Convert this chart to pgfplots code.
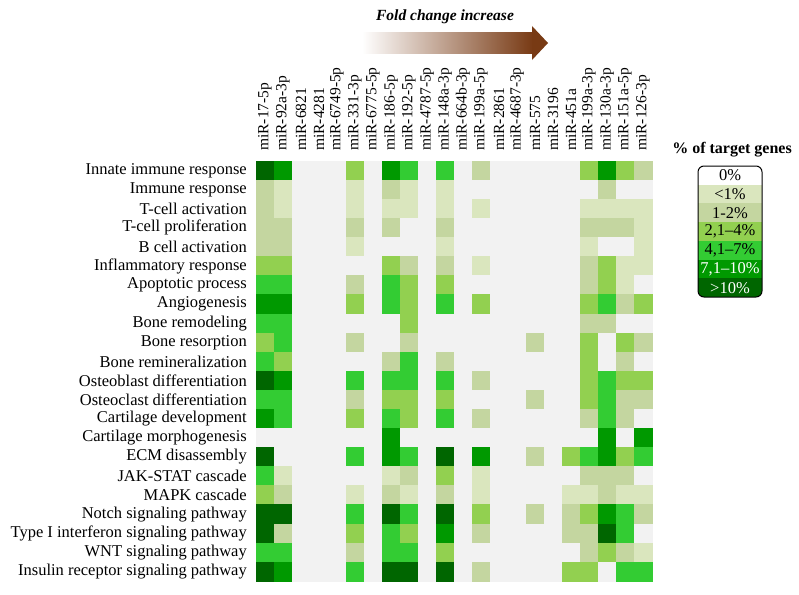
\documentclass[border=0pt]{standalone}
\usepackage{pgfplots}
\usepackage{pgfplotstable}
\pgfplotsset{compat=1.18}
\usepackage{fontspec}
\setmainfont{Liberation Serif}

\definecolor{lv1}{RGB}{218,230,190}
\definecolor{lv2}{RGB}{196,214,160}
\definecolor{lv3}{RGB}{146,208,80}
\definecolor{lv4}{RGB}{51,204,51}
\definecolor{lv5}{RGB}{0,153,0}
\definecolor{lv6}{RGB}{0,102,0}
\definecolor{arrowbrown}{RGB}{120,58,20}

% level of % of target genes: 0 = 0%, 1 = <1%, 2 = 1-2%, 3 = 2,1-4%, 4 = 4,1-7%, 5 = 7,1-10%, 6 = >10%
% r = pathway (0 = Innate immune response ... 21 = Insulin receptor signaling pathway), c0..c21 = miRNAs
\pgfplotstableread{
r c0 c1 c2 c3 c4 c5 c6 c7 c8 c9 c10 c11 c12 c13 c14 c15 c16 c17 c18 c19 c20 c21
0  6 5 0 0 0 3 0 5 4 0 4 0 2 0 0 0 0 0 3 5 3 2
1  2 1 0 0 0 1 0 2 1 0 1 0 0 0 0 0 0 0 0 2 0 0
2  2 1 0 0 0 1 0 1 1 0 1 0 1 0 0 0 0 0 1 1 1 1
3  2 2 0 0 0 2 0 2 0 0 2 0 0 0 0 0 0 0 2 2 2 1
4  2 2 0 0 0 1 0 0 0 0 1 0 0 0 0 0 0 0 1 0 0 1
5  3 3 0 0 0 0 0 3 2 0 2 0 1 0 0 0 0 0 2 3 1 1
6  4 4 0 0 0 2 0 4 3 0 3 0 0 0 0 0 0 0 2 3 1 0
7  5 5 0 0 0 3 0 4 3 0 4 0 3 0 0 0 0 0 3 4 2 3
8  4 4 0 0 0 0 0 0 3 0 0 0 0 0 0 0 0 0 2 2 0 0
9  3 4 0 0 0 2 0 0 2 0 0 0 0 0 0 2 0 0 3 0 3 2
10 4 3 0 0 0 0 0 2 4 0 2 0 0 0 0 0 0 0 3 0 2 0
11 6 5 0 0 0 4 0 4 4 0 4 0 2 0 0 0 0 0 3 4 3 3
12 4 4 0 0 0 2 0 3 3 0 3 0 0 0 0 2 0 0 3 4 2 2
13 5 4 0 0 0 3 0 4 3 0 4 0 2 0 0 0 0 0 2 4 2 0
14 0 0 0 0 0 0 0 5 0 0 0 0 0 0 0 0 0 0 0 5 0 5
15 6 0 0 0 0 4 0 5 4 0 6 0 5 0 0 2 0 3 4 5 3 4
16 4 1 0 0 0 0 0 1 2 0 3 0 1 0 0 0 0 0 2 2 2 0
17 3 2 0 0 0 1 0 2 1 0 2 0 1 0 0 0 0 1 1 2 1 1
18 6 6 0 0 0 4 0 6 4 0 6 0 3 0 0 2 0 2 3 5 4 2
19 6 2 0 0 0 3 0 4 3 0 5 0 2 0 0 0 0 2 2 6 4 0
20 4 4 0 0 0 2 0 4 4 0 3 0 0 0 0 0 0 0 2 3 2 1
21 6 5 0 0 0 4 0 6 6 0 6 0 2 0 0 0 0 3 3 0 4 4
}\levels

\begin{document}
\begin{tikzpicture}[x=1pt,y=1pt]
\path[use as bounding box] (0pt,0pt) rectangle (799pt,-594pt);

% fold change arrow
\shade[left color=white, middle color={rgb,255:red,210;green,140;blue,80}, right color=arrowbrown]
  (362,-33) rectangle (533,-53);
\fill[arrowbrown] (532,-26) -- (548,-43) -- (532,-60) -- cycle;
\node[font=\bfseries\itshape\fontsize{15.5}{17}\selectfont] at (445,-17) {Fold change increase};

\begin{axis}[
  at={(454pt,-371pt)}, anchor=center,
  width=396pt, height=420pt, scale only axis,
  xmin=-0.5, xmax=21.5, ymin=-0.5, ymax=21.5,
  colormap={levels}{rgb255=(242,242,242) rgb255=(218,230,190) rgb255=(196,214,160)
    rgb255=(146,208,80) rgb255=(51,204,51) rgb255=(0,153,0) rgb255=(0,102,0)},
  point meta min=0, point meta max=6,
  axis on top,
  axis line style={black!85, line width=1pt},
  major tick length=0pt,
  xtick={0,...,21},
  xticklabels={miR-17-5p, miR-92a-3p, miR-6821, miR-4281, miR-6749-5p, miR-331-3p,
    miR-6775-5p, miR-186-5p, miR-192-5p, miR-4787-5p, miR-148a-3p, miR-664b-3p,
    miR-199a-5p, miR-2861, miR-4687-3p, miR-575, miR-3196, miR-451a, miR-199a-3p,
    miR-130a-3p, miR-151a-5p, miR-126-3p},
  xticklabel pos=top,
  xticklabel style={rotate=90, anchor=west, inner sep=0pt, font=\fontsize{15.5}{17}\selectfont},
  xticklabel shift=10pt,
  ytick={0,...,21},
  yticklabels={Insulin receptor signaling pathway, WNT signaling pathway,
    Type I interferon signaling pathway, Notch signaling pathway, MAPK cascade,
    JAK-STAT cascade, ECM disassembly, Cartilage morphogenesis, Cartilage development,
    Osteoclast differentiation, Osteoblast differentiation, Bone remineralization,
    Bone resorption, Bone remodeling, Angiogenesis, Apoptotic process,
    Inflammatory response, B cell activation, T-cell proliferation, T-cell activation,
    Immune response, Innate immune response},
  yticklabel style={anchor=east, inner sep=0pt, font=\fontsize{16.5}{18}\selectfont},
  yticklabel shift=9pt,
]
\pgfplotsinvokeforeach{0,...,21}{
  \addplot[scatter, only marks, mark=square*, mark size=9pt,
    point meta=explicit,
    scatter/use mapped color={draw=mapped color, fill=mapped color},
    every mark/.append style={yscale=1.0606, line width=0.3pt}]
    table[x expr=#1, y expr=21-\thisrow{r}, meta=c#1] {\levels};
}
\end{axis}

% legend
\node[font=\bfseries\fontsize{16}{18}\selectfont] at (732,-150) {\% of target genes};
\begin{scope}
  \clip[rounded corners=6] (698,-166) rectangle (762,-297);
  \foreach \i/\c/\t/\tc in {0/white/0\%/black, 1/lv1/<1\%/black, 2/lv2/1-2\%/black,
      3/lv3/{2,1--4\%}/black, 4/lv4/{4,1--7\%}/black, 5/lv5/{7,1--10\%}/white, 6/lv6/>10\%/white} {
    \fill[\c] (698,-166-18.714*\i) rectangle (762,-166-18.714*\i-18.714);
    \node[text=\tc, font=\fontsize{16.5}{18}\selectfont] at (730,-166-18.714*\i-9.357) {\t};
  }
\end{scope}
\draw[rounded corners=6, line width=1pt] (698,-166) rectangle (762,-297);
\end{tikzpicture}
\end{document}
